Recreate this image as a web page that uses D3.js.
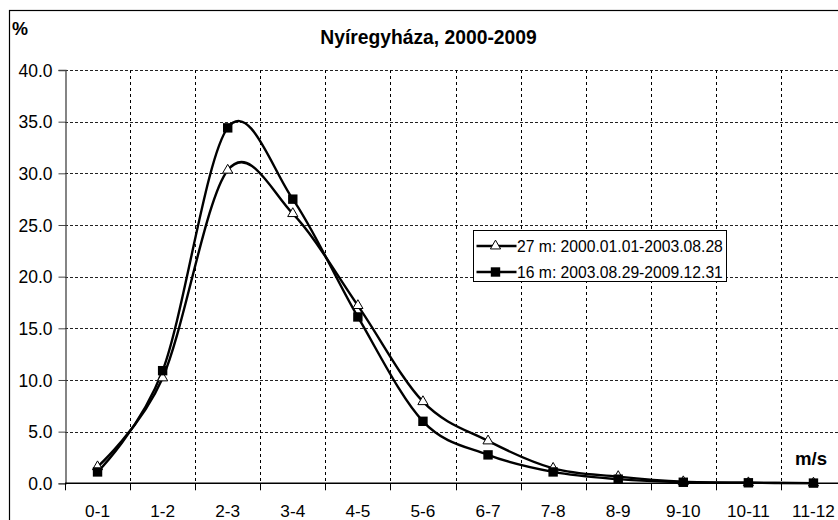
<!DOCTYPE html>
<html>
<head>
<meta charset="utf-8">
<script src="https://cdn.jsdelivr.net/npm/d3@7/dist/d3.min.js"></script>
<style>
  html, body { margin: 0; padding: 0; background: #fff; }
  svg { display: block; font-family: "Liberation Sans", Arial, sans-serif; }
</style>
</head>
<body>
<svg id="chart" width="838" height="520"></svg>
<script>
// Wind speed classes (m/s)
const categories = ["0-1", "1-2", "2-3", "3-4", "4-5", "5-6", "6-7", "7-8", "8-9", "9-10", "10-11", "11-12"];
// Frequency (%) per class, 27 m measurement height
const series27m = [1.6, 10.2, 30.3, 26.1, 17.2, 7.9, 4.1, 1.45, 0.65, 0.15, 0.05, 0.02];
// Frequency (%) per class, 16 m measurement height
const series16m = [1.1, 10.9, 34.4, 27.5, 16.1, 6.0, 2.75, 1.1, 0.4, 0.1, 0.05, 0.02];
const yTicks = [0, 5, 10, 15, 20, 25, 30, 35, 40];
const seriesNames = ["27 m: 2000.01.01-2003.08.28", "16 m: 2003.08.29-2009.12.31"];
const titleText = "Nyíregyháza, 2000-2009";

const svg = d3.select("#chart");
const W = 838, H = 520;
const plotLeft = 65, plotRight = 846, plotTop = 70, plotBottom = 483.3;
const FONT = "'Liberation Sans', Arial, sans-serif";

// Outer chart frame
svg.append("rect")
  .attr("x", 9.5).attr("y", 10.5)
  .attr("width", W).attr("height", H)
  .attr("fill", "none").attr("stroke", "#000").attr("stroke-width", 1.2);

const x = d3.scaleBand().domain(categories).range([plotLeft, plotRight]).padding(0);
const y = d3.scaleLinear().domain([0, 40]).range([plotBottom, plotTop]);
const cx = c => x(c) + x.bandwidth() / 2;

const plot = svg.append("g");

// Horizontal gridlines
plot.append("g").selectAll("line")
  .data(yTicks.filter(v => v > 0))
  .join("line")
  .attr("x1", plotLeft).attr("x2", W)
  .attr("y1", d => Math.round(y(d)) + 0.5).attr("y2", d => Math.round(y(d)) + 0.5)
  .attr("stroke", "#222").attr("stroke-width", 1)
  .attr("stroke-dasharray", "3,2");

// Vertical gridlines at class boundaries
plot.append("g").selectAll("line")
  .data(categories.slice(1))
  .join("line")
  .attr("x1", d => Math.round(x(d)) + 0.5).attr("x2", d => Math.round(x(d)) + 0.5)
  .attr("y1", plotTop).attr("y2", plotBottom)
  .attr("stroke", "#000").attr("stroke-width", 1)
  .attr("stroke-dasharray", "3,3");

// Y axis
const yAxis = svg.append("g")
  .attr("transform", `translate(${plotLeft + 0.5},0)`)
  .call(d3.axisLeft(y).tickValues(yTicks).tickFormat(d3.format(".1f")).tickSize(7).tickPadding(6));
yAxis.select(".domain").attr("stroke", "#444").attr("stroke-width", 1.3);
yAxis.selectAll(".tick line").attr("stroke", "#444");
yAxis.selectAll("text")
  .attr("font-size", 17.5).attr("fill", "#000")
  .attr("font-family", FONT)
  .attr("dy", "0.35em");

// X axis line
svg.append("line")
  .attr("x1", plotLeft).attr("x2", W)
  .attr("y1", plotBottom).attr("y2", plotBottom)
  .attr("stroke", "#000").attr("stroke-width", 1.4);

// X ticks at class boundaries
svg.append("g").selectAll("line")
  .data(categories)
  .join("line")
  .attr("x1", d => Math.round(x(d)) + 0.5).attr("x2", d => Math.round(x(d)) + 0.5)
  .attr("y1", plotBottom).attr("y2", plotBottom + 7)
  .attr("stroke", "#000").attr("stroke-width", 1);

// X labels centered on classes
svg.append("g").selectAll("text")
  .data(categories)
  .join("text")
  .attr("x", d => cx(d)).attr("y", 517)
  .attr("text-anchor", "middle")
  .attr("font-size", 17.2)
  .text(d => d);

// Smoothed series lines
const line = d3.line()
  .x((d, i) => cx(categories[i]))
  .y(d => y(d))
  .curve(d3.curveCardinal.tension(0));

[series27m, series16m].forEach(s => {
  svg.append("path")
    .attr("d", line(s))
    .attr("fill", "none")
    .attr("stroke", "#000")
    .attr("stroke-width", 2.4)
    .attr("stroke-linejoin", "round");
});

// Markers
const tri = d3.symbol().type(d3.symbolTriangle).size(45);
svg.append("g").selectAll("path")
  .data(series27m)
  .join("path")
  .attr("transform", (d, i) => `translate(${cx(categories[i])},${y(d)})`)
  .attr("d", tri())
  .attr("fill", "#fff").attr("stroke", "#000").attr("stroke-width", 1);

svg.append("g").selectAll("rect")
  .data(series16m)
  .join("rect")
  .attr("x", (d, i) => cx(categories[i]) - 4.7)
  .attr("y", d => y(d) - 4.7)
  .attr("width", 9.4).attr("height", 9.4)
  .attr("fill", "#000");

// Title and axis captions
svg.append("text")
  .attr("x", 428.5).attr("y", 43.5)
  .attr("text-anchor", "middle")
  .attr("font-size", 19.3).attr("font-weight", "bold")
  .text(titleText);

svg.append("text")
  .attr("x", 12).attr("y", 35)
  .attr("font-size", 18).attr("font-weight", "bold")
  .text("%");

svg.append("text")
  .attr("x", 795).attr("y", 465)
  .attr("font-size", 18.6).attr("font-weight", "bold")
  .text("m/s");

// Legend
const lg = svg.append("g").attr("transform", "translate(473.5,230.5)");
lg.append("rect")
  .attr("width", 253).attr("height", 51)
  .attr("fill", "#fff").attr("stroke", "#000").attr("stroke-width", 1);
seriesNames.forEach((name, i) => {
  const yy = 15.5 + i * 26;
  lg.append("line")
    .attr("x1", 3).attr("x2", 43).attr("y1", yy).attr("y2", yy)
    .attr("stroke", "#000").attr("stroke-width", 2.4);
  if (i === 0) {
    lg.append("path")
      .attr("transform", `translate(22,${yy})`)
      .attr("d", tri())
      .attr("fill", "#fff").attr("stroke", "#000").attr("stroke-width", 1);
  } else {
    lg.append("rect")
      .attr("x", 17.3).attr("y", yy - 4.7).attr("width", 9.4).attr("height", 9.4)
      .attr("fill", "#000");
  }
  lg.append("text")
    .attr("x", 43.5).attr("y", yy + 6)
    .attr("font-size", 15.7)
    .text(name);
});
</script>
</body>
</html>
